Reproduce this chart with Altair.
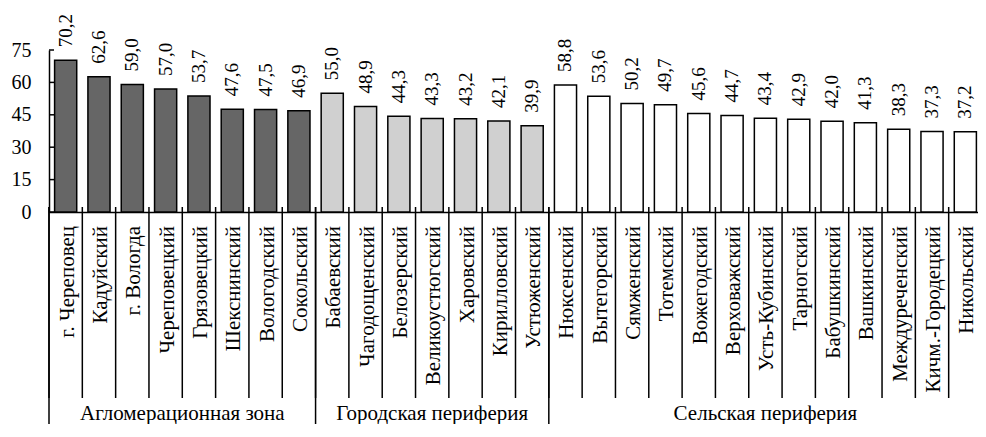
import altair as alt
import pandas as pd

categories = [
    "г. Череповец", "Кадуйский", "г. Вологда", "Череповецкий", "Грязовецкий",
    "Шекснинский", "Вологодский", "Сокольский",
    "Бабаевский", "Чагодощенский", "Белозерский", "Великоустюгский", "Харовский",
    "Кирилловский", "Устюженский",
    "Нюксенский", "Вытегорский", "Сямженский", "Тотемский", "Вожегодский",
    "Верховажский", "Усть-Кубинский", "Тарногский", "Бабушкинский", "Вашкинский",
    "Междуреченский", "Кичм.-Городецкий", "Никольский",
]
values = [
    70.2, 62.6, 59.0, 57.0, 53.7, 47.6, 47.5, 46.9,
    55.0, 48.9, 44.3, 43.3, 43.2, 42.1, 39.9,
    58.8, 53.6, 50.2, 49.7, 45.6, 44.7, 43.4, 42.9, 42.0, 41.3, 38.3, 37.3, 37.2,
]
group_names = ["Агломерационная зона", "Городская периферия", "Сельская периферия"]
group_sizes = [8, 7, 13]
group_colors = ["#666666", "#d0d0d0", "#ffffff"]
y_ticks = [0, 15, 30, 45, 60, 75]

FONT = "Liberation Serif, Times New Roman, DejaVu Serif, serif"

# build tables
groups, colors = [], []
for g, n, c in zip(group_names, group_sizes, group_colors):
    groups += [g] * n
    colors += [c] * n
df = pd.DataFrame({
    "cat": categories,
    "val": values,
    "group": groups,
    "color": colors,
    "label": [f"{v:.1f}".replace(".", ",") for v in values],
})

starts, mid_even, mid_odd = [], [], []
pos = 0
for g, n in zip(group_names, group_sizes):
    starts.append({"cat": categories[pos]})
    anchor = categories[pos + n // 2]
    if n % 2 == 0:
        mid_even.append({"cat": anchor, "group": g})
    else:
        mid_odd.append({"cat": anchor, "group": g})
    pos += n
starts_df = pd.DataFrame(starts)
even_df = pd.DataFrame(mid_even)
odd_df = pd.DataFrame(mid_odd)
ticks_df = pd.DataFrame({"val": y_ticks})

xscale = alt.Scale(domain=categories, paddingInner=0, paddingOuter=0)
yscale = alt.Scale(domain=[0, 75], nice=False, zero=True)

yaxis = alt.Axis(values=y_ticks, title=None, grid=False, tickSize=0,
                 labelFont=FONT, labelFontSize=20, labelColor="black",
                 labelOverlap=False, labelPadding=18, labelFlush=False,
                 domainColor="black", domainWidth=1.5)
xaxis = alt.Axis(labels=False, ticks=False, title=None, domain=True,
                 domainColor="black", domainWidth=1.5)

base = alt.Chart(df)

bars = base.mark_bar(
    width=alt.RelativeBandSize(0.664), stroke="black", strokeWidth=1.5
).encode(
    x=alt.X("cat:N", scale=xscale, sort=None, axis=xaxis),
    y=alt.Y("val:Q", scale=yscale, axis=yaxis),
    fill=alt.Fill("color:N", scale=None, legend=None),
)

val_labels = base.mark_text(
    angle=270, align="left", baseline="middle", dx=13, font=FONT, fontSize=19,
    color="black",
).encode(
    x=alt.X("cat:N", scale=xscale, sort=None, axis=xaxis),
    y=alt.Y("val:Q", scale=yscale, axis=yaxis),
    text="label:N",
)

cat_labels = base.mark_text(
    angle=270, align="right", baseline="middle", font=FONT, fontSize=21,
    color="black", dy=2,
).encode(
    x=alt.X("cat:N", scale=xscale, sort=None, axis=xaxis),
    y=alt.value(176),
    text="cat:N",
)

cat_ticks = base.mark_rule(color="black", strokeWidth=1.5).encode(
    x=alt.X("cat:N", scale=xscale, sort=None, bandPosition=0, axis=xaxis),
    y=alt.value(157),
    y2=alt.value(348),
)

group_lines = alt.Chart(starts_df).mark_rule(color="black", strokeWidth=1.5).encode(
    x=alt.X("cat:N", scale=xscale, sort=None, bandPosition=0, axis=xaxis),
    y=alt.value(157),
    y2=alt.value(400),
)

grp_even = alt.Chart(even_df).mark_text(
    font=FONT, fontSize=21, color="black", baseline="middle"
).encode(
    x=alt.X("cat:N", scale=xscale, sort=None, bandPosition=0, axis=xaxis),
    y=alt.value(364),
    text="group:N",
)
grp_odd = alt.Chart(odd_df).mark_text(
    font=FONT, fontSize=21, color="black", baseline="middle"
).encode(
    x=alt.X("cat:N", scale=xscale, sort=None, bandPosition=0.5, axis=xaxis),
    y=alt.value(364),
    text="group:N",
)

y_inner_ticks = alt.Chart(ticks_df).mark_rule(color="black", strokeWidth=1.5).encode(
    y=alt.Y("val:Q", scale=yscale, axis=yaxis),
    x=alt.value(0),
    x2=alt.value(5),
)

chart = alt.layer(
    bars, cat_ticks, group_lines, y_inner_ticks, val_labels, cat_labels, grp_even, grp_odd
).properties(
    width=933, height=162,
    background="white",
    autosize=alt.AutoSizeParams(type="none"),
    padding={"left": 41, "top": 42, "right": -4, "bottom": 212},
).configure_view(
    stroke=None
).configure_text(
    font=FONT
).configure_axis(
    labelFont=FONT
)

chart.save("out.html", embed_options={"renderer": "svg", "actions": False})
